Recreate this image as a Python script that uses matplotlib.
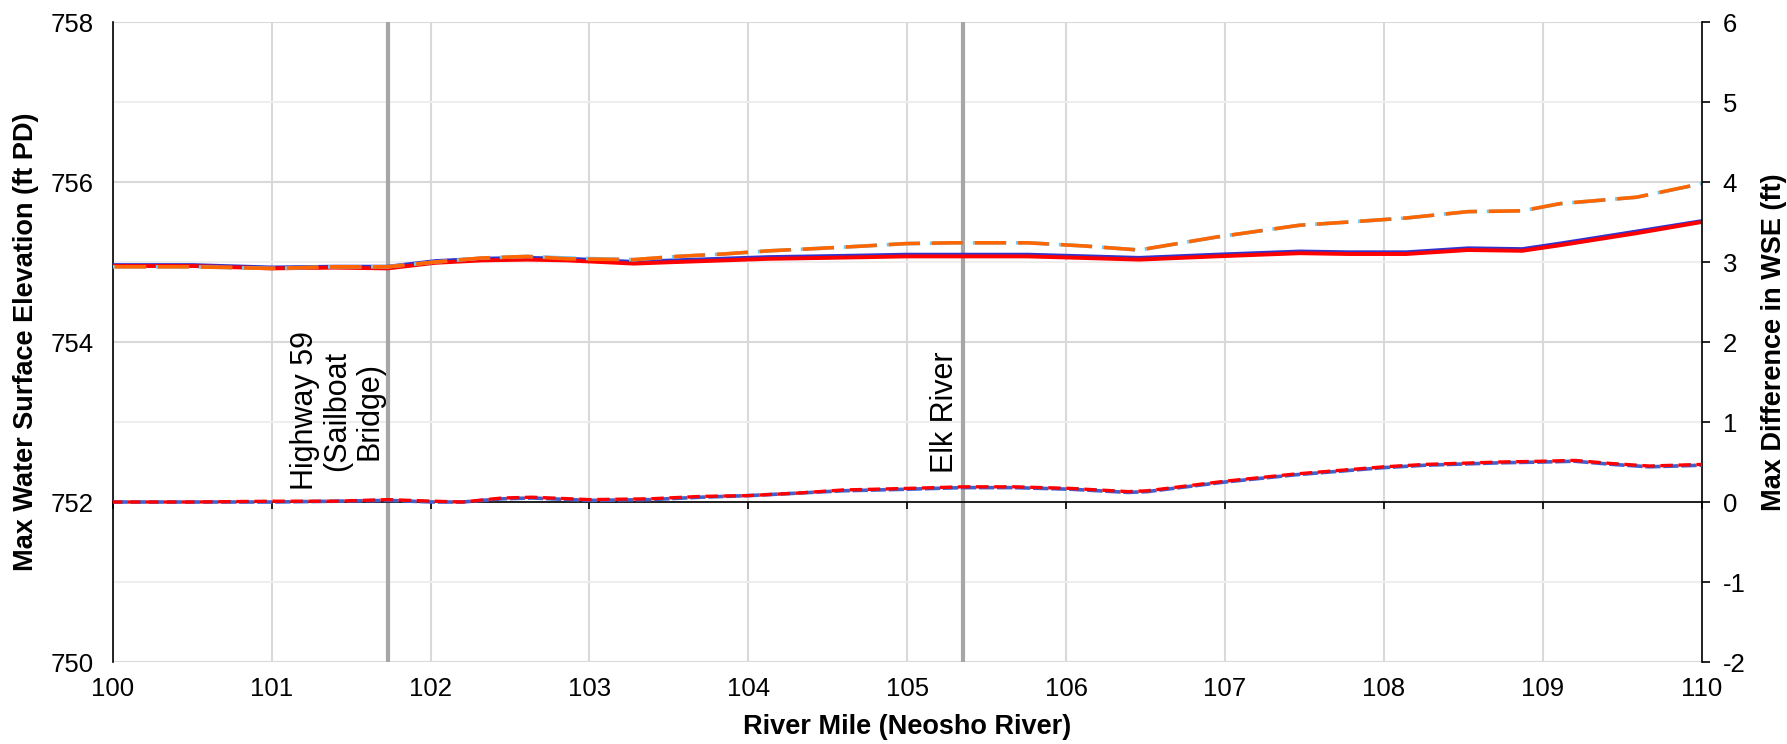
import numpy as np
import matplotlib
matplotlib.use("Agg")
import matplotlib.pyplot as plt

plt.rcParams['font.family'] = ['Liberation Sans', 'DejaVu Sans']
plt.rcParams['lines.scale_dashes'] = False
plt.rcParams['axes.unicode_minus'] = False

# river mile stations for the WSE profiles
river_mile = [100.0, 100.5, 101.0, 101.4, 101.73, 102.03, 102.32, 102.61, 102.86, 103.28,
              103.55, 103.84, 104.13, 104.44, 104.73, 104.99, 105.28, 105.5, 105.76, 106.12,
              106.46, 106.94, 107.47, 107.78, 108.14, 108.53, 108.87, 109.11, 109.59, 110.0]

wse_base_blue = [754.96, 754.96, 754.93, 754.94, 754.94, 755.01, 755.04, 755.05, 755.04, 755.00,
                 755.02, 755.04, 755.06, 755.07, 755.08, 755.09, 755.09, 755.09, 755.09, 755.07,
                 755.05, 755.09, 755.13, 755.12, 755.12, 755.17, 755.16, 755.23, 755.38, 755.51]
wse_base_red = [754.95, 754.95, 754.92, 754.93, 754.92, 754.99, 755.02, 755.03, 755.02, 754.98,
                755.00, 755.02, 755.04, 755.05, 755.06, 755.07, 755.07, 755.07, 755.07, 755.05,
                755.03, 755.07, 755.11, 755.10, 755.10, 755.15, 755.14, 755.21, 755.36, 755.50]
wse_alt_ltblue = [754.94, 754.94, 754.92, 754.94, 754.94, 755.00, 755.05, 755.07, 755.05, 755.03,
                  755.07, 755.10, 755.14, 755.17, 755.20, 755.23, 755.24, 755.24, 755.24, 755.20,
                  755.15, 755.31, 755.46, 755.50, 755.55, 755.63, 755.64, 755.73, 755.81, 755.98]
wse_alt_orange = [754.94, 754.94, 754.92, 754.94, 754.94, 755.00, 755.05, 755.07, 755.04, 755.03,
                  755.07, 755.10, 755.14, 755.17, 755.20, 755.23, 755.24, 755.24, 755.24, 755.20,
                  755.15, 755.31, 755.46, 755.50, 755.55, 755.63, 755.64, 755.73, 755.81, 755.98]

# stations for the WSE differences
diff_mile = [100.0, 100.5, 101.0, 101.4, 101.73, 102.02, 102.2, 102.45, 102.64, 103.0,
             103.38, 103.7, 104.0, 104.3, 104.59, 105.0, 105.35, 105.67, 106.03, 106.39,
             106.51, 107.0, 107.44, 108.0, 108.26, 108.73, 109.0, 109.2, 109.44, 109.67, 110.0]
diff_blue = [0.0, 0.0, 0.0, 0.01, 0.02, 0.0, 0.0, 0.04, 0.05, 0.02,
             0.03, 0.06, 0.08, 0.11, 0.14, 0.16, 0.18, 0.18, 0.16, 0.12,
             0.13, 0.25, 0.34, 0.43, 0.46, 0.49, 0.50, 0.51, 0.47, 0.44, 0.46]
diff_red = [0.0, 0.0, 0.01, 0.01, 0.03, 0.01, 0.0, 0.05, 0.06, 0.03,
            0.04, 0.07, 0.08, 0.11, 0.15, 0.17, 0.19, 0.19, 0.17, 0.13,
            0.14, 0.26, 0.35, 0.44, 0.47, 0.50, 0.51, 0.52, 0.48, 0.45, 0.47]

bridge_mile = 101.73
elk_mile = 105.35

fig = plt.figure(figsize=(17.87, 7.44), dpi=100)
ax = fig.add_axes([0.0631, 0.1102, 0.8892, 0.8602])
ax2 = ax.twinx()

# grid on the left axis
ax.set_xlim(100, 110)
ax.set_ylim(750, 758)
ax.set_xticks(np.arange(100, 111, 1))
ax.set_yticks(np.arange(750, 759, 2))
ax.set_yticks(np.arange(751, 758, 2), minor=True)
ax.grid(axis='x', which='major', color='#d9d9d9', lw=1.5)
ax.grid(axis='y', which='major', color='#d9d9d9', lw=1.5)
ax.grid(axis='y', which='minor', color='#eeeeee', lw=1.5)
ax.set_axisbelow(True)
for s in ['top', 'right', 'bottom']:
    ax.spines[s].set_visible(False)
ax.spines['left'].set_color('black')
ax.spines['left'].set_linewidth(1.2)
ax.tick_params(axis='y', which='both', length=0, pad=14, labelsize=18.5)
ax.tick_params(axis='x', length=0, pad=11, labelsize=18.5)
ax.set_xlabel('River Mile (Neosho River)', fontsize=19.5, fontweight='bold', labelpad=9)
ax.set_ylabel('Max Water Surface Elevation (ft PD)', fontsize=19.5, fontweight='bold', labelpad=8)

# reference lines
ax.axvline(bridge_mile, color='#a6a6a6', lw=3, zorder=1)
ax.axvline(elk_mile, color='#a6a6a6', lw=3, zorder=1)

ax.plot(river_mile, wse_base_blue, color='#3333cc', lw=3.0, zorder=3)
ax.plot(river_mile, wse_base_red, color='#ff0000', lw=2.8, zorder=4)
ax.plot(river_mile, wse_alt_ltblue, color='#66ccff', lw=2.6, linestyle=(0, (24, 7)), zorder=5)
ax.plot(river_mile, wse_alt_orange, color='#ff6600', lw=2.6, linestyle=(-1.5, (22.5, 8.5)), zorder=6)

# right axis
ax2.set_ylim(-2, 6)
ax2.set_yticks(np.arange(-2, 7, 1))
ax2.tick_params(axis='y', direction='out', length=6, width=1.2, pad=9, labelsize=18.5)
for s in ['top', 'left']:
    ax2.spines[s].set_visible(False)
ax2.spines['right'].set_color('black')
ax2.spines['right'].set_linewidth(1.2)
ax2.xaxis.set_visible(True)
ax2.spines['bottom'].set_visible(True)
ax2.spines['bottom'].set_position(('data', 0))
ax2.spines['bottom'].set_linewidth(1.2)
ax2.tick_params(axis='x', bottom=True, labelbottom=False, direction='out', length=5, width=1.2)
ax2.set_ylabel('Max Difference in WSE (ft)', fontsize=19.5, fontweight='bold', labelpad=11)

ax2.plot(diff_mile, diff_blue, color='#4060d0', lw=2.6, linestyle=(0, (11, 2)), zorder=3)
ax2.plot(diff_mile, diff_red, color='#ff0000', lw=2.4, linestyle=(2, (9, 4)), zorder=4)

ax2.text(bridge_mile - 0.02, 0.15, 'Highway 59\n(Sailboat\nBridge)', rotation=90,
         ha='right', va='bottom', multialignment='center', fontsize=22, linespacing=1.1)
ax2.text(elk_mile - 0.02, 0.36, 'Elk River', rotation=90,
         ha='right', va='bottom', fontsize=22)

fig.savefig('out.png', dpi=100)
